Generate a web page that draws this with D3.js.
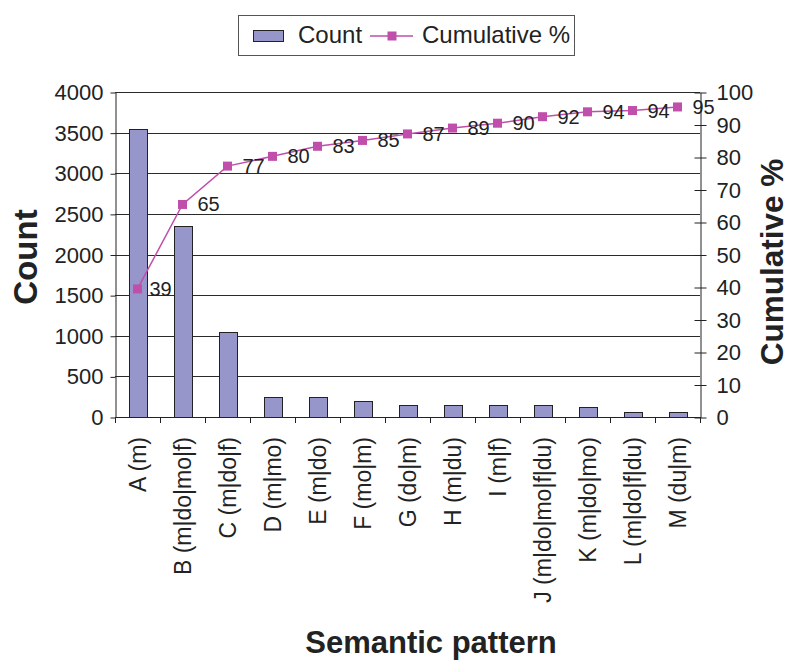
<!DOCTYPE html>
<html>
<head>
<meta charset="utf-8">
<script src="https://cdn.jsdelivr.net/npm/d3@7"></script>
<style>
  html, body { margin: 0; padding: 0; background: #fff; }
  svg { display: block; font-family: "Liberation Sans", Arial, sans-serif; }
</style>
</head>
<body>
<svg id="chart" width="799" height="671"></svg>
<script>
const categories = ["A (m)", "B (m|do|mo|f)", "C (m|do|f)", "D (m|mo)", "E (m|do)", "F (mo|m)", "G (do|m)", "H (m|du)", "I (m|f)", "J (m|do|mo|f|du)", "K (m|do|mo)", "L (m|do|f|du)", "M (du|m)"];
const counts = [3550, 2350, 1050, 252, 252, 193, 147, 147, 147, 147, 127, 65, 65];
const cumulative = [39.4, 65.4, 77.2, 80.2, 83.3, 85.1, 87.1, 88.9, 90.4, 92.4, 93.9, 94.3, 95.4];
const countTicks = [0, 500, 1000, 1500, 2000, 2500, 3000, 3500, 4000];
const pctTicks = [0, 10, 20, 30, 40, 50, 60, 70, 80, 90, 100];

const svg = d3.select("#chart");
const pLeft = 115, pRight = 700, pTop = 92, pBottom = 417;

const x = d3.scaleBand().domain(categories).range([pLeft, pRight]).paddingInner(0.6).paddingOuter(0.3);
const yL = d3.scaleLinear().domain([0, 4000]).range([pBottom, pTop]);
const yR = d3.scaleLinear().domain([0, 100]).range([pBottom, pTop]);

// gridlines
svg.append("g").selectAll("line").data(countTicks.filter(d => d > 0)).join("line")
  .attr("x1", pLeft).attr("x2", pRight)
  .attr("y1", d => Math.round(yL(d)) + 0.5).attr("y2", d => Math.round(yL(d)) + 0.5)
  .attr("stroke", "#2a2a2a").attr("stroke-width", 1);

// bars
svg.append("g").selectAll("rect").data(counts).join("rect")
  .attr("x", (d, i) => Math.round(x(categories[i])) + 0.5)
  .attr("width", Math.round(x.bandwidth()))
  .attr("y", d => Math.round(yL(d)) + 0.5)
  .attr("height", d => Math.round(pBottom - yL(d)))
  .attr("fill", "#9696cb").attr("stroke", "#222").attr("stroke-width", 1);

// left axis
const gL = svg.append("g").attr("transform", `translate(${pLeft + 0.5},0.5)`)
  .call(d3.axisLeft(yL).tickValues(countTicks).tickFormat(d3.format("d")).tickSize(5).tickPadding(7).tickSizeOuter(0));
gL.selectAll("text").attr("font-size", 22).attr("fill", "#222").attr("font-family", "Liberation Sans, Arial, sans-serif");
gL.selectAll("line, path").attr("stroke", "#222");

// right axis
const gR = svg.append("g").attr("transform", `translate(${pRight + 0.5},0.5)`)
  .call(d3.axisRight(yR).tickValues(pctTicks).tickSizeInner(6).tickPadding(10).tickSizeOuter(0));
gR.selectAll(".tick line").attr("x1", -6);
gR.selectAll("text").attr("font-size", 22).attr("fill", "#222").attr("font-family", "Liberation Sans, Arial, sans-serif");
gR.selectAll("line, path").attr("stroke", "#222");

// x axis
const xTickPos = categories.map(c => x(c) - x.step() * 0.3).concat([pRight]);
svg.append("line").attr("x1", pLeft).attr("x2", pRight + 1)
  .attr("y1", pBottom + 0.5).attr("y2", pBottom + 0.5).attr("stroke", "#222");
svg.append("g").selectAll("line").data(xTickPos).join("line")
  .attr("x1", d => Math.round(d) + 0.5).attr("x2", d => Math.round(d) + 0.5)
  .attr("y1", pBottom).attr("y2", pBottom + 6).attr("stroke", "#222");
svg.append("g").selectAll("text").data(categories).join("text")
  .attr("transform", d => `translate(${x(d) + x.bandwidth() / 2 + 8},${pBottom + 20}) rotate(-90)`)
  .attr("text-anchor", "end")
  .attr("font-size", 23).attr("fill", "#222")
  .text(d => d);

// cumulative line
const cx = (i) => x(categories[i]) + x.bandwidth() / 2;
const line = d3.line().x((d, i) => cx(i)).y(d => yR(d));
svg.append("path").datum(cumulative).attr("d", line)
  .attr("fill", "none").attr("stroke", "#c04fab").attr("stroke-width", 1.5);
svg.append("g").selectAll("rect").data(cumulative).join("rect")
  .attr("x", (d, i) => cx(i) - 4.5).attr("y", d => yR(d) - 4.5)
  .attr("width", 9).attr("height", 9).attr("fill", "#c04fab");
svg.append("g").selectAll("text").data(cumulative).join("text")
  .attr("x", (d, i) => cx(i) + (i === 0 ? 12 : 15))
  .attr("y", d => yR(d)).attr("dy", "0.35em")
  .attr("font-size", 20).attr("fill", "#222")
  .text(d => Math.round(d));

// axis titles
svg.append("text").attr("transform", "translate(37,257) rotate(-90)")
  .attr("text-anchor", "middle").attr("font-size", 33).attr("font-weight", "bold").attr("fill", "#222")
  .text("Count");
svg.append("text").attr("transform", "translate(783,262) rotate(-90)")
  .attr("text-anchor", "middle").attr("font-size", 31.5).attr("font-weight", "bold").attr("fill", "#222")
  .text("Cumulative %");
svg.append("text").attr("x", 431).attr("y", 653)
  .attr("text-anchor", "middle").attr("font-size", 31).attr("font-weight", "bold").attr("fill", "#222")
  .text("Semantic pattern");

// legend
const lg = svg.append("g");
lg.append("rect").attr("x", 238.5).attr("y", 15.5).attr("width", 336).attr("height", 40)
  .attr("fill", "#fff").attr("stroke", "#555").attr("stroke-width", 1);
lg.append("rect").attr("x", 253.5).attr("y", 30.5).attr("width", 30).attr("height", 11)
  .attr("fill", "#9696cb").attr("stroke", "#222");
lg.append("text").attr("x", 298).attr("y", 43).attr("font-size", 24).attr("fill", "#222").text("Count");
lg.append("line").attr("x1", 370).attr("x2", 413).attr("y1", 36).attr("y2", 36)
  .attr("stroke", "#c04fab").attr("stroke-width", 1.5);
lg.append("rect").attr("x", 387.5).attr("y", 31.5).attr("width", 9).attr("height", 9).attr("fill", "#c04fab");
lg.append("text").attr("x", 422).attr("y", 43).attr("font-size", 24).attr("fill", "#222").text("Cumulative %");
</script>
</body>
</html>
